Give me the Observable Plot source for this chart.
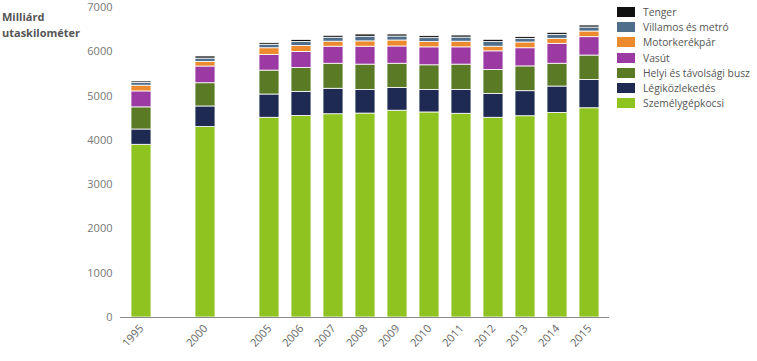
<!DOCTYPE html>
<html>
<head>
<meta charset="utf-8">
<script src="https://cdn.jsdelivr.net/npm/d3@7"></script>
<script src="https://cdn.jsdelivr.net/npm/@observablehq/plot@0.6"></script>
<style>
  body { margin: 0; background: #fff; }
  #wrap { position: relative; width: 757px; height: 361px; font-family: "Open Sans", sans-serif; overflow: hidden; }
  #ylabel { position: absolute; left: 2px; top: 9px; font-size: 11px; font-weight: bold; color: #555; line-height: 16px; }
  #legend { position: absolute; left: 617px; top: 4px; font-size: 10.3px; color: #555; white-space: nowrap; }
  .row { display: flex; align-items: center; height: 15.3px; }
  .sw { width: 18px; height: 10px; margin-right: 8px; flex: none; }
</style>
</head>
<body>
<div id="wrap">
  <div id="chart"></div>
  <div id="ylabel">Milliárd<br>utaskilométer</div>
  <div id="legend"></div>
</div>
<script>
const slots = ["1995", "_a", "2000", "_b", "2005", "2006", "2007", "2008", "2009", "2010", "2011", "2012", "2013", "2014", "2015"];
const years = ["1995", "2000", "2005", "2006", "2007", "2008", "2009", "2010", "2011", "2012", "2013", "2014", "2015"];
const seriesNames = ["Személygépkocsi", "Légiközlekedés", "Helyi és távolsági busz", "Vasút", "Motorkerékpár", "Villamos és metró", "Tenger"];
const seriesColors = ["#8fc31f", "#1f2a52", "#5a7a26", "#9c3aa3", "#ee8a2e", "#4e6e8c", "#111111"];
const car   = [3900, 4300, 4510, 4550, 4590, 4605, 4670, 4630, 4600, 4510, 4545, 4620, 4725];
const air   = [345, 465, 525, 545, 575, 535, 515, 510, 540, 540, 565, 595, 640];
const bus   = [500, 525, 540, 540, 565, 570, 545, 555, 570, 540, 560, 515, 550];
const rail  = [360, 377, 355, 362, 385, 405, 390, 405, 390, 420, 410, 450, 415];
const moto  = [130, 105, 150, 135, 113, 120, 135, 120, 128, 105, 130, 113, 128];
const tram  = [60, 75, 78, 90, 90, 105, 90, 88, 93, 105, 80, 90, 90];
const sea   = [34, 47, 36, 45, 43, 50, 45, 44, 46, 50, 40, 45, 45];
const yTicks = [0, 1000, 2000, 3000, 4000, 5000, 6000, 7000];

const seriesValues = [car, air, bus, rail, moto, tram, sea];
const data = [];
years.forEach((y, i) => {
  seriesNames.forEach((s, j) => data.push({year: y, series: s, value: seriesValues[j][i]}));
});

const chart = Plot.plot({
  width: 757,
  height: 361,
  marginLeft: 120,
  marginRight: 148,
  marginTop: 7,
  marginBottom: 44,
  style: {fontFamily: "'Open Sans', sans-serif", fontSize: "11px", color: "#777", background: "#fff"},
  x: {domain: slots, paddingInner: 0.39, paddingOuter: 0.195, label: null, axis: null},
  y: {domain: [0, 7000], label: null, axis: null},
  color: {domain: seriesNames, range: seriesColors},
  marks: [
    Plot.barY(data, {x: "year", y: "value", fill: "series", stroke: "white", strokeWidth: 0.8}),
    Plot.ruleY([0], {stroke: "#8a8a8a", strokeWidth: 1.2}),
    Plot.axisY({ticks: yTicks, tickSize: 0, tickPadding: 8, label: null, tickFormat: d => String(d)}),
    Plot.axisX({ticks: years, tickSize: 0, tickPadding: 9, tickRotate: -48, label: null, fill: "#666"})
  ]
});
document.getElementById("chart").appendChild(chart);

const legend = document.getElementById("legend");
[...seriesNames].reverse().forEach((s) => {
  const c = seriesColors[seriesNames.indexOf(s)];
  const row = document.createElement("div");
  row.className = "row";
  row.innerHTML = `<div class="sw" style="background:${c}"></div><span>${s}</span>`;
  legend.appendChild(row);
});
</script>
</body>
</html>
